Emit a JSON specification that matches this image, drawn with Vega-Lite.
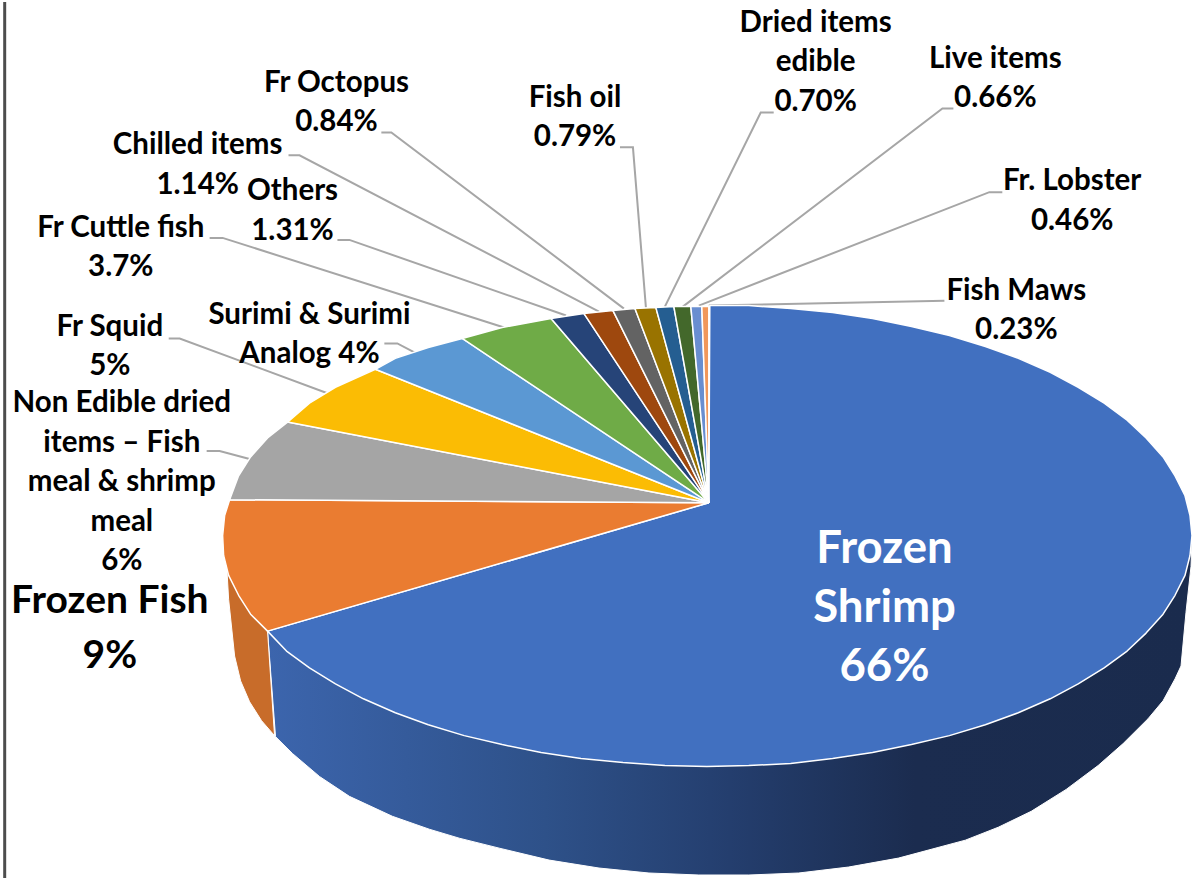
{
"$schema":"https://vega.github.io/schema/vega-lite/v6.json",
"width":1194,"height":878,"padding":0,
"autosize":{"type":"fit","contains":"padding"},
"background":"white",
"view":{"stroke":null},
"datasets":{
"side":[
{"slice":"Frozen Shrimp","order":1,"x":268,"y":632},{"slice":"Frozen Shrimp","order":2,"x":710,"y":600},{"slice":"Frozen Shrimp","order":3,"x":1194,"y":540},{"slice":"Frozen Shrimp","order":4,"x":1193,"y":567},{"slice":"Frozen Shrimp","order":5,"x":1188,"y":613},{"slice":"Frozen Shrimp","order":6,"x":1183,"y":667},{"slice":"Frozen Shrimp","order":7,"x":1177,"y":680},{"slice":"Frozen Shrimp","order":8,"x":1165,"y":702},{"slice":"Frozen Shrimp","order":9,"x":1150,"y":720},{"slice":"Frozen Shrimp","order":10,"x":1125,"y":745},{"slice":"Frozen Shrimp","order":11,"x":1100,"y":767},{"slice":"Frozen Shrimp","order":12,"x":1068,"y":791},{"slice":"Frozen Shrimp","order":13,"x":1033,"y":813},{"slice":"Frozen Shrimp","order":14,"x":1000,"y":829},{"slice":"Frozen Shrimp","order":15,"x":967,"y":842},{"slice":"Frozen Shrimp","order":16,"x":900,"y":860},{"slice":"Frozen Shrimp","order":17,"x":850,"y":869},{"slice":"Frozen Shrimp","order":18,"x":800,"y":875},{"slice":"Frozen Shrimp","order":19,"x":750,"y":877},{"slice":"Frozen Shrimp","order":20,"x":700,"y":877},{"slice":"Frozen Shrimp","order":21,"x":650,"y":875},{"slice":"Frozen Shrimp","order":22,"x":600,"y":870},{"slice":"Frozen Shrimp","order":23,"x":550,"y":862},{"slice":"Frozen Shrimp","order":24,"x":500,"y":850},{"slice":"Frozen Shrimp","order":25,"x":460,"y":840},{"slice":"Frozen Shrimp","order":26,"x":430,"y":831},{"slice":"Frozen Shrimp","order":27,"x":393,"y":818},{"slice":"Frozen Shrimp","order":28,"x":350,"y":798},{"slice":"Frozen Shrimp","order":29,"x":320,"y":778},{"slice":"Frozen Shrimp","order":30,"x":293,"y":755},{"slice":"Frozen Shrimp","order":31,"x":276,"y":738},{"slice":"Frozen Shrimp","order":32,"x":268,"y":632},
{"slice":"Frozen Fish","order":1,"x":268,"y":632},{"slice":"Frozen Fish","order":2,"x":300,"y":590},{"slice":"Frozen Fish","order":3,"x":227,"y":565},{"slice":"Frozen Fish","order":4,"x":229,"y":600},{"slice":"Frozen Fish","order":5,"x":235,"y":657},{"slice":"Frozen Fish","order":6,"x":241,"y":682},{"slice":"Frozen Fish","order":7,"x":250,"y":703},{"slice":"Frozen Fish","order":8,"x":262,"y":722},{"slice":"Frozen Fish","order":9,"x":275,"y":737},{"slice":"Frozen Fish","order":10,"x":268,"y":632}
],
"top":[
{"slice":"Frozen Shrimp","share":66,"order":0,"x":710,"y":503},{"slice":"Frozen Shrimp","share":66,"order":1,"x":711,"y":305},{"slice":"Frozen Shrimp","share":66,"order":2,"x":750,"y":305},{"slice":"Frozen Shrimp","share":66,"order":3,"x":792,"y":308},{"slice":"Frozen Shrimp","share":66,"order":4,"x":834,"y":312},{"slice":"Frozen Shrimp","share":66,"order":5,"x":874,"y":318},{"slice":"Frozen Shrimp","share":66,"order":6,"x":913,"y":326},{"slice":"Frozen Shrimp","share":66,"order":7,"x":951,"y":335},{"slice":"Frozen Shrimp","share":66,"order":8,"x":987,"y":346},{"slice":"Frozen Shrimp","share":66,"order":9,"x":1020,"y":358},{"slice":"Frozen Shrimp","share":66,"order":10,"x":1052,"y":372},{"slice":"Frozen Shrimp","share":66,"order":11,"x":1080,"y":387},{"slice":"Frozen Shrimp","share":66,"order":12,"x":1106,"y":403},{"slice":"Frozen Shrimp","share":66,"order":13,"x":1129,"y":420},{"slice":"Frozen Shrimp","share":66,"order":14,"x":1148,"y":438},{"slice":"Frozen Shrimp","share":66,"order":15,"x":1165,"y":457},{"slice":"Frozen Shrimp","share":66,"order":16,"x":1177,"y":476},{"slice":"Frozen Shrimp","share":66,"order":17,"x":1187,"y":496},{"slice":"Frozen Shrimp","share":66,"order":18,"x":1192,"y":516},{"slice":"Frozen Shrimp","share":66,"order":19,"x":1194,"y":536},{"slice":"Frozen Shrimp","share":66,"order":20,"x":1192,"y":556},{"slice":"Frozen Shrimp","share":66,"order":21,"x":1187,"y":576},{"slice":"Frozen Shrimp","share":66,"order":22,"x":1177,"y":596},{"slice":"Frozen Shrimp","share":66,"order":23,"x":1165,"y":615},{"slice":"Frozen Shrimp","share":66,"order":24,"x":1148,"y":634},{"slice":"Frozen Shrimp","share":66,"order":25,"x":1129,"y":652},{"slice":"Frozen Shrimp","share":66,"order":26,"x":1106,"y":669},{"slice":"Frozen Shrimp","share":66,"order":27,"x":1080,"y":685},{"slice":"Frozen Shrimp","share":66,"order":28,"x":1052,"y":700},{"slice":"Frozen Shrimp","share":66,"order":29,"x":1020,"y":714},{"slice":"Frozen Shrimp","share":66,"order":30,"x":987,"y":726},{"slice":"Frozen Shrimp","share":66,"order":31,"x":951,"y":737},{"slice":"Frozen Shrimp","share":66,"order":32,"x":913,"y":746},{"slice":"Frozen Shrimp","share":66,"order":33,"x":874,"y":754},{"slice":"Frozen Shrimp","share":66,"order":34,"x":834,"y":760},{"slice":"Frozen Shrimp","share":66,"order":35,"x":792,"y":765},{"slice":"Frozen Shrimp","share":66,"order":36,"x":750,"y":767},{"slice":"Frozen Shrimp","share":66,"order":37,"x":708,"y":768},{"slice":"Frozen Shrimp","share":66,"order":38,"x":666,"y":767},{"slice":"Frozen Shrimp","share":66,"order":39,"x":624,"y":764},{"slice":"Frozen Shrimp","share":66,"order":40,"x":582,"y":760},{"slice":"Frozen Shrimp","share":66,"order":41,"x":542,"y":754},{"slice":"Frozen Shrimp","share":66,"order":42,"x":503,"y":746},{"slice":"Frozen Shrimp","share":66,"order":43,"x":465,"y":737},{"slice":"Frozen Shrimp","share":66,"order":44,"x":429,"y":726},{"slice":"Frozen Shrimp","share":66,"order":45,"x":396,"y":714},{"slice":"Frozen Shrimp","share":66,"order":46,"x":364,"y":700},{"slice":"Frozen Shrimp","share":66,"order":47,"x":336,"y":685},{"slice":"Frozen Shrimp","share":66,"order":48,"x":310,"y":669},{"slice":"Frozen Shrimp","share":66,"order":49,"x":287,"y":652},{"slice":"Frozen Shrimp","share":66,"order":50,"x":268,"y":632},{"slice":"Frozen Shrimp","share":66,"order":51,"x":710,"y":503},
{"slice":"Frozen Fish","share":9,"order":0,"x":710,"y":503},{"slice":"Frozen Fish","share":9,"order":1,"x":268,"y":632},{"slice":"Frozen Fish","share":9,"order":2,"x":251,"y":615},{"slice":"Frozen Fish","share":9,"order":3,"x":239,"y":596},{"slice":"Frozen Fish","share":9,"order":4,"x":229,"y":576},{"slice":"Frozen Fish","share":9,"order":5,"x":224,"y":556},{"slice":"Frozen Fish","share":9,"order":6,"x":223,"y":536},{"slice":"Frozen Fish","share":9,"order":7,"x":225,"y":516},{"slice":"Frozen Fish","share":9,"order":8,"x":230,"y":500},{"slice":"Frozen Fish","share":9,"order":9,"x":710,"y":503},
{"slice":"Non Edible dried items","share":6,"order":0,"x":710,"y":503},{"slice":"Non Edible dried items","share":6,"order":1,"x":230,"y":500},{"slice":"Non Edible dried items","share":6,"order":2,"x":239,"y":476},{"slice":"Non Edible dried items","share":6,"order":3,"x":251,"y":457},{"slice":"Non Edible dried items","share":6,"order":4,"x":268,"y":438},{"slice":"Non Edible dried items","share":6,"order":5,"x":288,"y":422},{"slice":"Non Edible dried items","share":6,"order":6,"x":710,"y":503},
{"slice":"Fr Squid","share":5,"order":0,"x":710,"y":503},{"slice":"Fr Squid","share":5,"order":1,"x":288,"y":422},{"slice":"Fr Squid","share":5,"order":2,"x":310,"y":403},{"slice":"Fr Squid","share":5,"order":3,"x":336,"y":387},{"slice":"Fr Squid","share":5,"order":4,"x":376,"y":369},{"slice":"Fr Squid","share":5,"order":5,"x":710,"y":503},
{"slice":"Surimi & Surimi Analog","share":4,"order":0,"x":710,"y":503},{"slice":"Surimi & Surimi Analog","share":4,"order":1,"x":376,"y":369},{"slice":"Surimi & Surimi Analog","share":4,"order":2,"x":396,"y":358},{"slice":"Surimi & Surimi Analog","share":4,"order":3,"x":429,"y":347},{"slice":"Surimi & Surimi Analog","share":4,"order":4,"x":463,"y":338},{"slice":"Surimi & Surimi Analog","share":4,"order":5,"x":710,"y":503},
{"slice":"Fr Cuttle fish","share":3.7,"order":0,"x":710,"y":503},{"slice":"Fr Cuttle fish","share":3.7,"order":1,"x":463,"y":338},{"slice":"Fr Cuttle fish","share":3.7,"order":2,"x":503,"y":327},{"slice":"Fr Cuttle fish","share":3.7,"order":3,"x":552,"y":318},{"slice":"Fr Cuttle fish","share":3.7,"order":4,"x":710,"y":503},
{"slice":"Others","share":1.31,"order":0,"x":710,"y":503},{"slice":"Others","share":1.31,"order":1,"x":552,"y":318},{"slice":"Others","share":1.31,"order":2,"x":585,"y":313},{"slice":"Others","share":1.31,"order":3,"x":710,"y":503},
{"slice":"Chilled items","share":1.14,"order":0,"x":710,"y":503},{"slice":"Chilled items","share":1.14,"order":1,"x":585,"y":313},{"slice":"Chilled items","share":1.14,"order":2,"x":614,"y":310},{"slice":"Chilled items","share":1.14,"order":3,"x":710,"y":503},
{"slice":"Fr Octopus","share":0.84,"order":0,"x":710,"y":503},{"slice":"Fr Octopus","share":0.84,"order":1,"x":614,"y":310},{"slice":"Fr Octopus","share":0.84,"order":2,"x":636,"y":308},{"slice":"Fr Octopus","share":0.84,"order":3,"x":710,"y":503},
{"slice":"Fish oil","share":0.79,"order":0,"x":710,"y":503},{"slice":"Fish oil","share":0.79,"order":1,"x":636,"y":308},{"slice":"Fish oil","share":0.79,"order":2,"x":657,"y":307},{"slice":"Fish oil","share":0.79,"order":3,"x":710,"y":503},
{"slice":"Dried items edible","share":0.7,"order":0,"x":710,"y":503},{"slice":"Dried items edible","share":0.7,"order":1,"x":657,"y":307},{"slice":"Dried items edible","share":0.7,"order":2,"x":675,"y":306},{"slice":"Dried items edible","share":0.7,"order":3,"x":710,"y":503},
{"slice":"Live items","share":0.66,"order":0,"x":710,"y":503},{"slice":"Live items","share":0.66,"order":1,"x":675,"y":306},{"slice":"Live items","share":0.66,"order":2,"x":692,"y":306},{"slice":"Live items","share":0.66,"order":3,"x":710,"y":503},
{"slice":"Fr. Lobster","share":0.46,"order":0,"x":710,"y":503},{"slice":"Fr. Lobster","share":0.46,"order":1,"x":692,"y":306},{"slice":"Fr. Lobster","share":0.46,"order":2,"x":703,"y":306},{"slice":"Fr. Lobster","share":0.46,"order":3,"x":710,"y":503},
{"slice":"Fish Maws","share":0.23,"order":0,"x":710,"y":503},{"slice":"Fish Maws","share":0.23,"order":1,"x":703,"y":306},{"slice":"Fish Maws","share":0.23,"order":2,"x":710,"y":306},{"slice":"Fish Maws","share":0.23,"order":3,"x":710,"y":503}
],
"leaders":[
{"slice":"Fr Octopus","order":1,"x":382,"y":131},{"slice":"Fr Octopus","order":2,"x":392,"y":131},{"slice":"Fr Octopus","order":3,"x":625,"y":308},
{"slice":"Chilled items","order":1,"x":289,"y":154},{"slice":"Chilled items","order":2,"x":300,"y":154},{"slice":"Chilled items","order":3,"x":600,"y":311},
{"slice":"Others","order":1,"x":338,"y":239},{"slice":"Others","order":2,"x":350,"y":239},{"slice":"Others","order":3,"x":567,"y":315},
{"slice":"Fr Cuttle fish","order":1,"x":210,"y":237},{"slice":"Fr Cuttle fish","order":2,"x":223,"y":237},{"slice":"Fr Cuttle fish","order":3,"x":505,"y":327},
{"slice":"Surimi & Surimi Analog","order":1,"x":385,"y":343},{"slice":"Surimi & Surimi Analog","order":2,"x":398,"y":343},{"slice":"Surimi & Surimi Analog","order":3,"x":417,"y":353},
{"slice":"Fr Squid","order":1,"x":169,"y":338},{"slice":"Fr Squid","order":2,"x":180,"y":338},{"slice":"Fr Squid","order":3,"x":328,"y":393},
{"slice":"Non Edible dried items","order":1,"x":207,"y":451},{"slice":"Non Edible dried items","order":2,"x":220,"y":451},{"slice":"Non Edible dried items","order":3,"x":250,"y":459},
{"slice":"Fish oil","order":1,"x":621,"y":146},{"slice":"Fish oil","order":2,"x":634,"y":146},{"slice":"Fish oil","order":3,"x":647,"y":307},
{"slice":"Dried items edible","order":1,"x":775,"y":111},{"slice":"Dried items edible","order":2,"x":762,"y":111},{"slice":"Dried items edible","order":3,"x":666,"y":306},
{"slice":"Live items","order":1,"x":955,"y":107},{"slice":"Live items","order":2,"x":944,"y":107},{"slice":"Live items","order":3,"x":684,"y":306},
{"slice":"Fr. Lobster","order":1,"x":1004,"y":191},{"slice":"Fr. Lobster","order":2,"x":991,"y":191},{"slice":"Fr. Lobster","order":3,"x":700,"y":305},
{"slice":"Fish Maws","order":1,"x":946,"y":300},{"slice":"Fish Maws","order":2,"x":710,"y":305}
],
"labels":[
{"label":"Frozen|Shrimp|66%","x":886,"y":550,"tier":"main"},
{"label":"Frozen Fish|9%","x":110,"y":602,"tier":"second"},
{"label":"Non Edible dried|items – Fish|meal & shrimp|meal|6%","x":122,"y":403,"tier":"minor"},
{"label":"Fr Squid|5%","x":110,"y":326,"tier":"minor"},
{"label":"Surimi & Surimi|Analog 4%","x":310,"y":314,"tier":"minor"},
{"label":"Fr Cuttle fish|3.7%","x":121,"y":227,"tier":"minor"},
{"label":"Others|1.31%","x":293,"y":190,"tier":"minor"},
{"label":"Chilled items|1.14%","x":198,"y":144,"tier":"minor"},
{"label":"Fr Octopus|0.84%","x":337,"y":81,"tier":"minor"},
{"label":"Fish oil|0.79%","x":576,"y":96,"tier":"minor"},
{"label":"Dried items|edible|0.70%","x":817,"y":21,"tier":"minor"},
{"label":"Live items|0.66%","x":997,"y":57,"tier":"minor"},
{"label":"Fr. Lobster|0.46%","x":1074,"y":180,"tier":"minor"},
{"label":"Fish Maws|0.23%","x":1018,"y":290,"tier":"minor"}
]
},
"encoding":{
"x":{"field":"x","type":"quantitative","scale":{"domain":[0,1194],"nice":false,"zero":false},"axis":null},
"y":{"field":"y","type":"quantitative","scale":{"domain":[0,878],"reverse":true,"nice":false,"zero":false},"axis":null}
},
"layer":[
{"data":{"values":[{"x":4.7}]},"mark":{"type":"rule","color":"#4d4d4d","strokeWidth":3},"encoding":{"y":{"value":0},"y2":{"value":878}}},
{"data":{"name":"side"},"transform":[{"filter":"datum.slice==='Frozen Shrimp'"}],
"mark":{"type":"line","stroke":"white","strokeWidth":1,"fill":{"gradient":"linear","x1":0,"y1":0,"x2":1,"y2":0,"stops":[{"offset":0,"color":"#3C65AD"},{"offset":0.3,"color":"#2E5189"},{"offset":0.5,"color":"#243E6E"},{"offset":0.7,"color":"#1B2C4F"},{"offset":1,"color":"#1A2B4D"}]}},
"encoding":{"order":{"field":"order","type":"quantitative"}}},
{"data":{"name":"side"},"transform":[{"filter":"datum.slice==='Frozen Fish'"}],
"mark":{"type":"line","stroke":"white","strokeWidth":1,"fill":"#C86C2A"},
"encoding":{"order":{"field":"order","type":"quantitative"}}},
{"data":{"name":"leaders"},"mark":{"type":"line","stroke":"#A6A6A6","strokeWidth":2},
"encoding":{"detail":{"field":"slice"},"order":{"field":"order","type":"quantitative"}}},
{"data":{"name":"top"},"mark":{"type":"line","stroke":"white","strokeWidth":1.5,"strokeJoin":"round"},
"encoding":{"order":{"field":"order","type":"quantitative"},
"fill":{"field":"slice","type":"nominal","legend":null,"scale":{
"domain":["Frozen Shrimp","Frozen Fish","Non Edible dried items","Fr Squid","Surimi & Surimi Analog","Fr Cuttle fish","Others","Chilled items","Fr Octopus","Fish oil","Dried items edible","Live items","Fr. Lobster","Fish Maws"],
"range":["#4170C0","#EA7C31","#A5A5A5","#FBBC04","#5B98D3","#6FAB47","#264478","#9E480E","#636363","#997300","#255E91","#43682B","#698ED0","#F1975A"]}}}},
{"data":{"name":"labels"},"transform":[{"filter":"datum.tier==='minor'"}],
"mark":{"type":"text","font":"Lato","fontWeight":"bold","fontSize":29.5,"lineBreak":"|","lineHeight":39.5,"align":"center","baseline":"middle","color":"black"},
"encoding":{"text":{"field":"label"}}},
{"data":{"name":"labels"},"transform":[{"filter":"datum.tier==='second'"}],
"mark":{"type":"text","font":"Lato","fontWeight":"bold","fontSize":39,"lineBreak":"|","lineHeight":55,"align":"center","baseline":"middle","color":"black"},
"encoding":{"text":{"field":"label"}}},
{"data":{"name":"labels"},"transform":[{"filter":"datum.tier==='main'"}],
"mark":{"type":"text","font":"Lato","fontWeight":"bold","fontSize":45.5,"lineBreak":"|","lineHeight":59,"align":"center","baseline":"middle","color":"white"},
"encoding":{"text":{"field":"label"}}}
]
}
